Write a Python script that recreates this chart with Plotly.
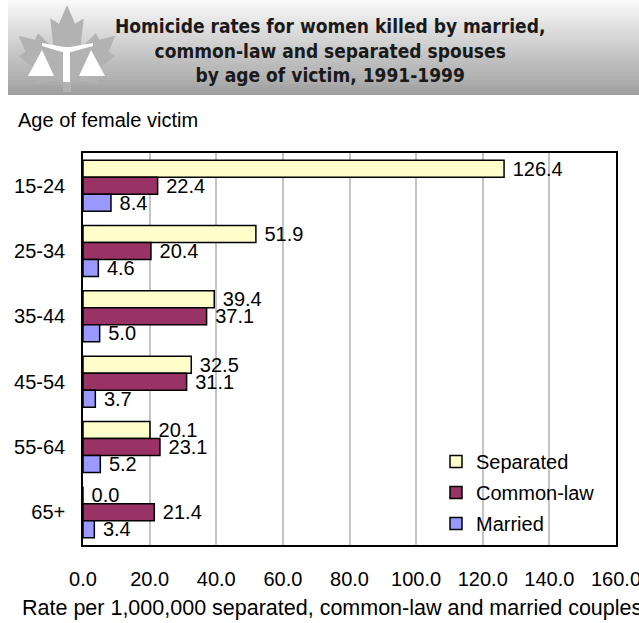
import plotly.graph_objects as go

# ---- data ----
age_groups = ["15-24", "25-34", "35-44", "45-54", "55-64", "65+"]
separated = [126.4, 51.9, 39.4, 32.5, 20.1, 0.0]
common_law = [22.4, 20.4, 37.1, 31.1, 23.1, 21.4]
married = [8.4, 4.6, 5.0, 3.7, 5.2, 3.4]
series_names = ["Separated", "Common-law", "Married"]
x_ticks = [0, 20, 40, 60, 80, 100, 120, 140, 160]

title_text = ("Homicide rates for women killed by married,<br>"
              "common-law and separated spouses<br>"
              "by age of victim, 1991-1999")
y_title = "Age of female victim"
x_title = "Rate per 1,000,000 separated, common-law and married couples"

# ---- layout geometry (pixels) ----
W, H = 639, 623
L, R, T, B = 83, 616, 153, 545   # plot area edges


def px(x):
    return (x - L) / (R - L)


def py(y):
    return (B - y) / (B - T)


FONT = "Liberation Sans, Arial, sans-serif"
colors = ["#FFFFCC", "#993366", "#9999FF"]

fig = go.Figure()
for name, vals, col in zip(series_names, [separated, common_law, married], colors):
    fig.add_trace(go.Bar(
        y=age_groups, x=vals, name=name, orientation="h",
        marker=dict(color=col, line=dict(color="black", width=1.5)),
        text=[f" {v:.1f}" for v in vals], textposition="outside",
        textfont=dict(family=FONT, size=20, color="black"),
        constraintext="none", cliponaxis=False,
        legendgroup=name,
    ))

shapes = []
# banner gradient (styling)
n_strips = 48
y_top, y_bot = 0, 95
c_top, c_bot = 250, 158
for i in range(n_strips):
    y0 = y_top + (y_bot - y_top) * i / n_strips
    y1 = y_top + (y_bot - y_top) * (i + 1) / n_strips + 0.6
    c = round(c_top + (c_bot - c_top) * (i + 0.5) / n_strips)
    shapes.append(dict(type="rect", xref="paper", yref="paper",
                       x0=px(8), x1=px(W + 2), y0=py(y0), y1=py(min(y1, y_bot)),
                       fillcolor=f"rgb({c},{c},{c})", line=dict(width=0),
                       layer="above"))

# maple leaf (logo)
leaf_pts = [(0, 1.0), (0.12, 0.72), (0.25, 0.80), (0.20, 0.35), (0.43, 0.58),
            (0.48, 0.48), (0.72, 0.54), (0.62, 0.30), (0.72, 0.24), (0.40, -0.02),
            (0.47, -0.17), (0.06, -0.12), (0.06, -0.30), (-0.06, -0.30),
            (-0.06, -0.12), (-0.47, -0.17), (-0.40, -0.02), (-0.72, 0.24),
            (-0.62, 0.30), (-0.72, 0.54), (-0.48, 0.48), (-0.43, 0.58),
            (-0.20, 0.35), (-0.25, 0.80), (-0.12, 0.72)]
cx, cy, sc = 67, 72, 67


def path_from(pts):
    return "M " + " L ".join(f"{px(x):.5f},{py(y):.5f}" for x, y in pts) + " Z"


leaf = [(cx + sc * a, cy - sc * b) for a, b in leaf_pts]
shapes.append(dict(type="path", xref="paper", yref="paper", path=path_from(leaf),
                   fillcolor="#b2b2b2", line=dict(width=0), layer="above"))
# scales of justice (white)
beam = [(42, 43), (64, 47), (70, 47), (93, 43), (93, 46), (71, 52), (70, 52),
        (70, 82), (63, 82), (63, 52), (62, 52), (42, 46)]
shapes.append(dict(type="path", xref="paper", yref="paper", path=path_from(beam),
                   fillcolor="white", line=dict(width=0), layer="above"))
tri_l = [(42, 50), (54, 76), (28, 76)]
tri_r = [(91, 50), (105, 76), (79, 76)]
for tri in (tri_l, tri_r):
    shapes.append(dict(type="path", xref="paper", yref="paper", path=path_from(tri),
                       fillcolor="white", line=dict(width=0), layer="above"))

annotations = [
    dict(text=title_text, xref="paper", yref="paper", x=px(330), y=py(50),
         xanchor="center", yanchor="middle", showarrow=False, align="center",
         font=dict(family="Liberation Sans Narrow, DejaVu Sans Condensed, Arial Narrow, sans-serif",
                   size=19, color="#1a1a1a", weight="bold")),
    dict(text=y_title, xref="paper", yref="paper", x=px(16), y=py(120),
         xanchor="left", yanchor="middle", showarrow=False,
         font=dict(family=FONT, size=20, color="black")),
    dict(text=x_title, xref="paper", yref="paper", x=px(20), y=py(608),
         xanchor="left", yanchor="middle", showarrow=False,
         font=dict(family=FONT, size=21.5, color="black")),
]

fig.update_layout(
    width=W, height=H,
    margin=dict(l=L, r=W - R, t=T, b=H - B, pad=0, autoexpand=False),
    paper_bgcolor="white", plot_bgcolor="white",
    barmode="group", bargap=0.22, bargroupgap=0,
    showlegend=True,
    legend=dict(x=px(436), y=py(442), xanchor="left", yanchor="top",
                bgcolor="rgba(0,0,0,0)", borderwidth=0, tracegroupgap=2,
                itemwidth=30,
                font=dict(family=FONT, size=20, color="black")),
    shapes=shapes, annotations=annotations,
    font=dict(family=FONT, size=20, color="black"),
)
fig.update_xaxes(range=[0, 160], tickvals=x_ticks, ticktext=[f"{v:.1f}" for v in x_ticks],
                 showgrid=True, gridcolor="#c4c4c4", gridwidth=1.5,
                 showline=True, mirror=True, linecolor="black", linewidth=1.5,
                 ticks="outside", ticklen=15, tickcolor="rgba(0,0,0,0)",
                 ticklabeloverflow="allow", automargin=False,
                 tickfont=dict(family=FONT, size=20, color="black"), zeroline=False)
fig.update_yaxes(autorange="reversed", showgrid=False, automargin=False,
                 showline=True, mirror=True, linecolor="black", linewidth=1.5,
                 ticks="outside", ticklen=12, tickcolor="rgba(0,0,0,0)",
                 tickfont=dict(family=FONT, size=20, color="black"))

fig.write_html("out.html", config={"displayModeBar": False},
               post_script="document.body.style.margin='0px';document.body.style.overflow='hidden';")
